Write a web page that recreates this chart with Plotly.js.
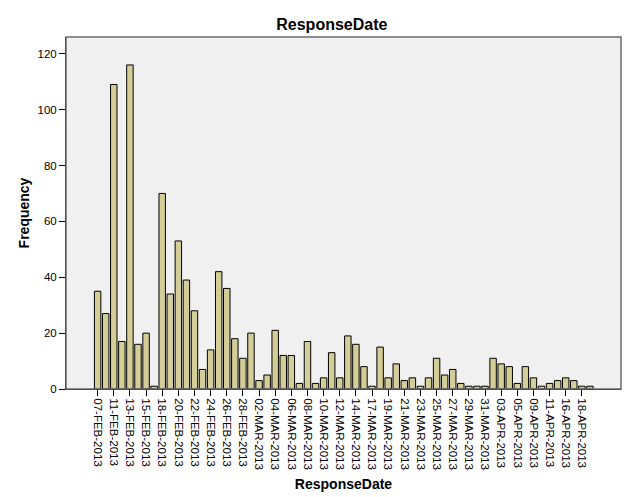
<!DOCTYPE html>
<html>
<head>
<meta charset="utf-8">
<script src="https://cdn.plot.ly/plotly-3.0.1.min.js"></script>
<style>html,body{margin:0;padding:0;background:#fff;}#chart{width:629px;height:497px;}</style>
</head>
<body>
<div id="chart"></div>
<script>
const categories = [
  "07-FEB-2013","08-FEB-2013","11-FEB-2013","12-FEB-2013","13-FEB-2013","14-FEB-2013","15-FEB-2013","16-FEB-2013",
  "18-FEB-2013","19-FEB-2013","20-FEB-2013","21-FEB-2013","22-FEB-2013","23-FEB-2013","24-FEB-2013","25-FEB-2013",
  "26-FEB-2013","27-FEB-2013","28-FEB-2013","01-MAR-2013","02-MAR-2013","03-MAR-2013","04-MAR-2013","05-MAR-2013",
  "06-MAR-2013","07-MAR-2013","08-MAR-2013","09-MAR-2013","10-MAR-2013","11-MAR-2013","12-MAR-2013","13-MAR-2013",
  "14-MAR-2013","15-MAR-2013","17-MAR-2013","18-MAR-2013","19-MAR-2013","20-MAR-2013","21-MAR-2013","22-MAR-2013",
  "23-MAR-2013","24-MAR-2013","25-MAR-2013","26-MAR-2013","27-MAR-2013","28-MAR-2013","29-MAR-2013","30-MAR-2013",
  "31-MAR-2013","02-APR-2013","03-APR-2013","04-APR-2013","05-APR-2013","08-APR-2013","09-APR-2013","10-APR-2013",
  "11-APR-2013","15-APR-2013","16-APR-2013","17-APR-2013","18-APR-2013","22-APR-2013"
];
const frequency = [
  35,27,109,17,116,16,20,1,
  70,34,53,39,28,7,14,42,
  36,18,11,20,3,5,21,12,
  12,2,17,2,4,13,4,19,
  16,8,1,15,4,9,3,4,
  1,4,11,5,7,2,1,1,
  1,11,9,8,2,8,4,1,
  2,3,4,3,1,1
];
const yTicks = [0,20,40,60,80,100,120];
const tickCats = categories.filter((c,i)=> i % 2 === 0);

const trace = {
  type: 'bar',
  x: categories,
  y: frequency,
  marker: {color: '#D3CE97', line: {color: '#000000', width: 1}},
  width: 0.8,
  hoverinfo: 'x+y'
};

const layout = {
  width: 629, height: 497,
  margin: {l: 66, r: 8, t: 37, b: 107.5},
  paper_bgcolor: '#ffffff',
  plot_bgcolor: '#F0F0F0',
  font: {family: 'Liberation Sans, Arial, sans-serif', color: '#000'},
  title: {text: '<b>ResponseDate</b>', x: 0.479, xref: 'paper', xanchor: 'center', y: 0.95, yref: 'container', yanchor: 'middle', font: {size: 16, color: '#000'}},
  showlegend: false,
  bargap: 0.2,
  xaxis: {
    type: 'category',
    range: [-3.92, 64.85],
    tickmode: 'array',
    tickvals: tickCats,
    ticktext: tickCats,
    tickangle: 90,
    ticks: 'outside', ticklen: 6, tickcolor: '#000', tickwidth: 1,
    tickfont: {size: 11.5, color: '#000'},
    showline: true, linecolor: '#000', linewidth: 1,
    showgrid: false, zeroline: false,
    title: {text: '<b>ResponseDate</b>', font: {size: 14, color: '#000'}, standoff: 10}
  },
  yaxis: {
    range: [0, 126],
    tickmode: 'array', tickvals: yTicks,
    ticks: 'outside', ticklen: 6, tickcolor: '#000', tickwidth: 1,
    tickfont: {size: 11.5, color: '#000'},
    showline: true, linecolor: '#000', linewidth: 1,
    showgrid: false, zeroline: false,
    title: {text: '<b>Frequency</b>', font: {size: 14, color: '#000'}, standoff: 4}
  },
  shapes: [
    {type: 'rect', xref: 'paper', yref: 'paper', x0: 0, x1: 1, y0: 0, y1: 1, line: {color: '#6b6b6b', width: 1.5}, layer: 'above'}
  ]
};

Plotly.newPlot('chart', [trace], layout, {displayModeBar: false, staticPlot: true});
</script>
</body>
</html>
